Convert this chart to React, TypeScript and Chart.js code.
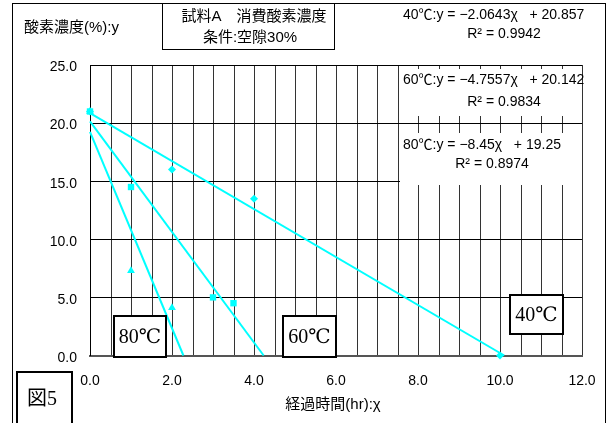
import React, { useEffect, useRef } from 'react';
import { Chart, registerables } from 'chart.js';

Chart.register(...registerables);

// ---- data ----
const temps = ['40℃', '60℃', '80℃'];
const x40 = [0, 2, 4, 10];
const y40 = [21.0, 16.0, 13.5, 0.0];
const x60 = [0, 1, 3, 3.5];
const y60 = [21.0, 14.5, 5.0, 4.5];
const x80 = [0, 1, 2];
const y80 = [21.0, 7.3, 4.1];
const slopes = [-2.0643, -4.7557, -8.45];
const intercepts = [20.857, 20.142, 19.25];
const r2 = ['0.9942', '0.9834', '0.8974'];
const xLabelTicks = [0, 2, 4, 6, 8, 10, 12];
const xGridStep = 0.5;
const yTickValues = [0, 5, 10, 15, 20, 25];

const titleLines = ['試料A　消費酸素濃度', '条件:空隙30%'];
const yTitle = '酸素濃度(%):y';
const xTitle = '経過時間(hr):χ';
const figLabel = '図5';

const CYAN = '#00FFFF';
const SANS = '"Liberation Sans", "Noto Sans CJK JP", sans-serif';
const SERIF = '"Liberation Serif", "DejaVu Serif", "Noto Sans CJK JP", serif';

const pts = (xs: number[], ys: number[]) => xs.map((x, i) => ({ x, y: ys[i] }));
const trend = (i: number) => [
  { x: 0, y: intercepts[i] },
  { x: -intercepts[i] / slopes[i], y: 0 },
];

const eqText = (i: number) =>
  `${temps[i]}:y = −${Math.abs(slopes[i])}χ   + ${intercepts[i]}`;

// white background + minor vertical grid lines (every 0.5 on x), drawn under everything
const minorGridPlugin = {
  id: 'minorGrid',
  beforeDraw(chart: any) {
    const ctx = chart.ctx as CanvasRenderingContext2D;
    const xs = chart.scales.x;
    const { top, bottom } = chart.chartArea;
    ctx.save();
    ctx.fillStyle = '#fff';
    ctx.fillRect(0, 0, chart.width, chart.height);
    ctx.strokeStyle = '#333';
    ctx.lineWidth = 1;
    for (let v = 0; v <= 12 + 1e-9; v += xGridStep) {
      const px = Math.round(xs.getPixelForValue(v)) + 0.5;
      ctx.beginPath();
      ctx.moveTo(px, top);
      ctx.lineTo(px, bottom);
      ctx.stroke();
    }
    ctx.restore();
  },
};

const overlayPlugin = {
  id: 'overlay',
  afterDraw(chart: any) {
    const ctx = chart.ctx as CanvasRenderingContext2D;
    ctx.save();
    // outer border
    ctx.strokeStyle = '#000';
    ctx.lineWidth = 1;
    ctx.strokeRect(12.5, 3.5, 593, 430);

    // title box
    ctx.fillStyle = '#fff';
    ctx.fillRect(162.5, 3.5, 172, 46);
    ctx.strokeRect(162.5, 3.5, 172, 46);
    ctx.fillStyle = '#000';
    ctx.font = `15px ${SANS}`;
    ctx.textAlign = 'center';
    ctx.textBaseline = 'middle';
    ctx.fillText(titleLines[0], 254, 17);
    ctx.fillText(titleLines[1], 250, 38);

    // axis titles
    ctx.font = `15px ${SANS}`;
    ctx.textAlign = 'left';
    ctx.fillText(yTitle, 24, 28);
    ctx.textAlign = 'center';
    ctx.fillText(xTitle, 333, 405);

    // equation boxes
    ctx.fillStyle = '#fff';
    ctx.fillRect(400, 69, 182, 47);
    ctx.fillRect(400, 133, 182, 52);
    ctx.fillStyle = '#000';
    ctx.font = `14px ${SANS}`;
    const eqY = [15, 80, 145];
    const r2Y = [34, 102, 164];
    const r2X = [504, 504, 492];
    for (let i = 0; i < 3; i++) {
      ctx.textAlign = 'left';
      ctx.fillText(eqText(i), 403, eqY[i]);
      ctx.textAlign = 'center';
      ctx.fillText(`R² = ${r2[i]}`, r2X[i], r2Y[i]);
    }

    // temperature label boxes
    const boxes = [
      { t: temps[2], x: 114, y: 316, w: 52, h: 41 },
      { t: temps[1], x: 283, y: 316, w: 53, h: 41 },
      { t: temps[0], x: 510, y: 295, w: 53, h: 39 },
    ];
    ctx.lineWidth = 2;
    ctx.font = `20px ${SERIF}`;
    ctx.textAlign = 'center';
    for (const b of boxes) {
      ctx.fillStyle = '#fff';
      ctx.fillRect(b.x, b.y, b.w, b.h);
      ctx.strokeRect(b.x, b.y, b.w, b.h);
      ctx.fillStyle = '#000';
      ctx.fillText(b.t, b.x + b.w / 2, b.y + b.h / 2 + 1);
    }

    // figure label
    ctx.fillStyle = '#fff';
    ctx.fillRect(17, 372, 55, 60);
    ctx.strokeRect(17, 372, 55, 60);
    ctx.fillStyle = '#000';
    ctx.font = `20px ${SERIF}`;
    ctx.fillText(figLabel, 42, 400);
    ctx.restore();
  },
};

export default function App() {
  const ref = useRef<HTMLCanvasElement | null>(null);
  useEffect(() => {
    if (!ref.current) return;
    const chart = new Chart(ref.current, {
      type: 'scatter',
      data: {
        datasets: [
          {
            data: pts(x60, y60),
            pointStyle: 'rect',
            pointRadius: 4.5,
            backgroundColor: CYAN,
            borderColor: CYAN,
            borderWidth: 0,
            showLine: false,
            clip: false,
          },
          {
            data: pts(x40, y40),
            pointStyle: 'rectRot',
            pointRadius: 4,
            backgroundColor: CYAN,
            borderColor: CYAN,
            borderWidth: 0,
            showLine: false,
            clip: false,
          },
          {
            data: pts(x80, y80),
            pointStyle: 'triangle',
            pointRadius: 4.5,
            backgroundColor: CYAN,
            borderColor: CYAN,
            borderWidth: 0,
            showLine: false,
            clip: false,
          },
          ...[0, 1, 2].map((i) => ({
            data: trend(i),
            showLine: true,
            pointRadius: 0,
            borderColor: CYAN,
            borderWidth: 2,
            backgroundColor: CYAN,
            clip: false,
          })),
        ] as any,
      },
      options: {
        animation: false,
        responsive: false,
        events: [],
        layout: { padding: { left: 0, top: 65, right: 33, bottom: 0 } },
        plugins: { legend: { display: false }, tooltip: { enabled: false } },
        scales: {
          x: {
            type: 'linear',
            min: 0,
            max: 12,
            afterFit: (s: any) => {
              s.height = 67.5;
            },
            afterBuildTicks: (s: any) => {
              s.ticks = xLabelTicks.map((v) => ({ value: v }));
            },
            ticks: {
              autoSkip: false,
              maxRotation: 0,
              padding: 17,
              color: '#000',
              font: { family: SANS, size: 14 },
              callback: (v: any) => Number(v).toFixed(1),
            },
            grid: { color: '#333', lineWidth: 1, drawTicks: false },
            border: { color: '#555', width: 2 },
          },
          y: {
            type: 'linear',
            min: 0,
            max: 25,
            afterFit: (s: any) => {
              s.width = 90;
            },
            afterBuildTicks: (s: any) => {
              s.ticks = yTickValues.map((v) => ({ value: v }));
            },
            ticks: {
              padding: 13,
              labelOffset: 2.5,
              color: '#000',
              font: { family: SANS, size: 14 },
              callback: (v: any) => Number(v).toFixed(1),
            },
            grid: { color: '#000', lineWidth: 1, drawTicks: false },
            border: { color: '#000', width: 1 },
          },
        },
      },
      plugins: [minorGridPlugin, overlayPlugin],
    });
    return () => chart.destroy();
  }, []);
  return (
    <div style={{ position: 'fixed', left: 0, top: 0, width: 615, height: 423, background: '#fff' }}>
      <canvas ref={ref} width={615} height={423} style={{ display: 'block' }} />
    </div>
  );
}
